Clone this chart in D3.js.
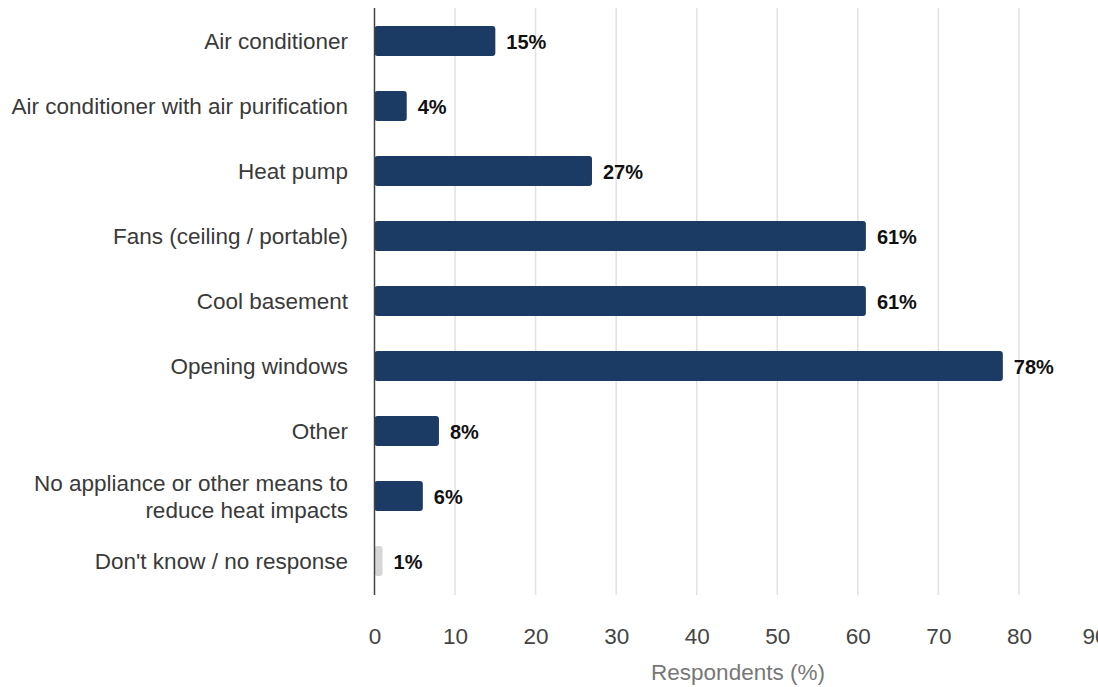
<!DOCTYPE html>
<html><head><meta charset="utf-8">
<script src="https://cdn.jsdelivr.net/npm/d3@7"></script>
<style>body{margin:0;background:#fff}svg{display:block;font-family:"Liberation Sans",Arial,sans-serif}</style>
</head><body>
<svg id="c" width="1098" height="687"></svg>
<script>
const categories = [
  ["Air conditioner"],
  ["Air conditioner with air purification"],
  ["Heat pump"],
  ["Fans (ceiling / portable)"],
  ["Cool basement"],
  ["Opening windows"],
  ["Other"],
  ["No appliance or other means to", "reduce heat impacts"],
  ["Don't know / no response"]
];
const values = [15, 4, 27, 61, 61, 78, 8, 6, 1];
const labels = ["15%", "4%", "27%", "61%", "61%", "78%", "8%", "6%", "1%"];
const barColors = ["#1b3a64","#1b3a64","#1b3a64","#1b3a64","#1b3a64","#1b3a64","#1b3a64","#1b3a64","#d6d6d6"];
const xTicks = [0,10,20,30,40,50,60,70,80,90];
const xTitle = "Respondents (%)";

const svg = d3.select("#c");
const x = d3.scaleLinear().domain([0, 90]).range([374.5, 1099.5]);
const y = d3.scaleBand().domain(d3.range(categories.length)).range([8.5, 593.5]).paddingInner(0.54).paddingOuter(0.27);

// gridlines
svg.append("g").selectAll("line").data(xTicks.filter(d => d > 0)).join("line")
  .attr("x1", d => x(d)).attr("x2", d => x(d))
  .attr("y1", 8).attr("y2", 595)
  .attr("stroke", "#e2e2e2").attr("stroke-width", 1.5);

// bars
svg.append("g").selectAll("rect").data(values).join("rect")
  .attr("x", x(0))
  .attr("y", (d, i) => y(i))
  .attr("width", d => x(d) - x(0))
  .attr("height", y.bandwidth())
  .attr("rx", 3).attr("ry", 3)
  .attr("fill", (d, i) => barColors[i]);

// value labels
svg.append("g").selectAll("text").data(values).join("text")
  .attr("x", d => x(d) + 11)
  .attr("y", (d, i) => y(i) + y.bandwidth() / 2 + 3)
  .attr("dominant-baseline", "middle")
  .attr("font-size", 20).attr("font-weight", "bold").attr("fill", "#111")
  .text((d, i) => labels[i]);

// zero axis line
svg.append("line").attr("x1", x(0)).attr("x2", x(0)).attr("y1", 8).attr("y2", 595)
  .attr("stroke", "#444").attr("stroke-width", 1.5);

// category labels
const cat = svg.append("g").selectAll("text").data(categories).join("text")
  .attr("text-anchor", "end")
  .attr("font-size", 22.5).attr("fill", "#3a3a3a");
cat.each(function(lines, i) {
  const t = d3.select(this);
  const cy = y(i) + y.bandwidth() / 2;
  const lh = 27;
  lines.forEach((ln, j) => {
    t.append("tspan").attr("x", 348)
      .attr("y", cy + (j - (lines.length - 1) / 2) * lh + 8)
      .text(ln);
  });
});

// x axis tick labels
const xAxis = d3.axisBottom(x).tickValues(xTicks).tickSize(0).tickPadding(0);
const gx = svg.append("g").attr("transform", "translate(0,628)").call(xAxis);
gx.select(".domain").remove();
gx.selectAll("text").attr("font-size", 22.5).attr("fill", "#444")
  .attr("font-family", "\"Liberation Sans\",Arial,sans-serif").attr("dy", "0.71em")
  .attr("dx", d => d === 90 ? -5 : 0);

// axis title
svg.append("text").attr("x", 738).attr("y", 680).attr("text-anchor", "middle")
  .attr("font-size", 22.5).attr("fill", "#777").text(xTitle);
</script>
</body></html>
